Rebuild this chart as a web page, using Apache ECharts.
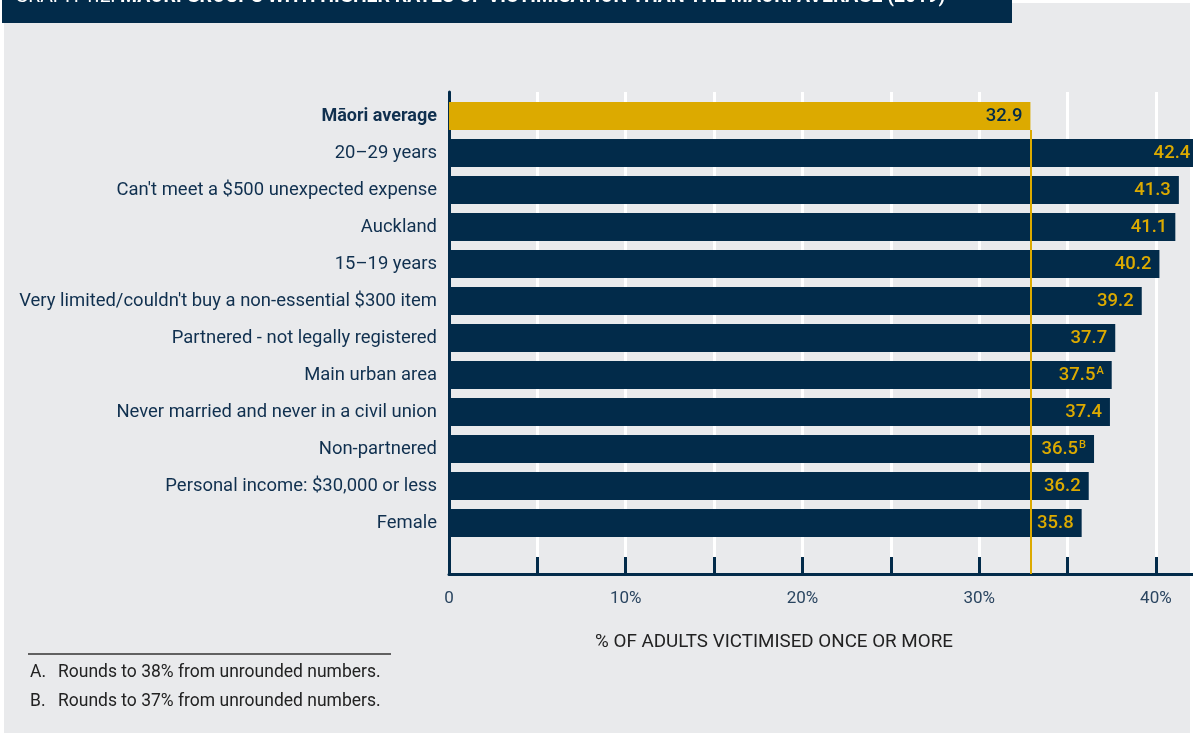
<!DOCTYPE html>
<html>
<head>
<meta charset="utf-8">
<script src="https://cdn.jsdelivr.net/npm/echarts@6/dist/echarts.min.js"></script>
<style>
html,body{margin:0;padding:0;background:#ffffff;}
#chart{width:1193px;height:735px;}
</style>
</head>
<body>
<div id="chart"></div>
<script>
// ---------- data ----------
const titlePrefix = 'GRAPH 1.2: ';
const titleMain = 'MĀORI GROUPS WITH HIGHER RATES OF VICTIMISATION THAN THE MĀORI AVERAGE (2019)';
const averageLabel = 'Māori average';
const categories = [
  'Māori average',
  '20–29 years',
  "Can't meet a $500 unexpected expense",
  'Auckland',
  '15–19 years',
  "Very limited/couldn't buy a non-essential $300 item",
  'Partnered - not legally registered',
  'Main urban area',
  'Never married and never in a civil union',
  'Non-partnered',
  'Personal income: $30,000 or less',
  'Female'
];
const values = [32.9, 42.4, 41.3, 41.1, 40.2, 39.2, 37.7, 37.5, 37.4, 36.5, 36.2, 35.8];
const noteMarks = ['', '', '', '', '', '', '', 'A', '', 'B', '', ''];
const xTickValues = [5, 10, 15, 20, 25, 30, 35, 40];
const xLabelValues = [0, 10, 20, 30, 40];
const xAxisName = '% OF ADULTS VICTIMISED ONCE OR MORE';
const footnoteKeys = ['A.', 'B.'];
const footnoteTexts = ['Rounds to 38% from unrounded numbers.', 'Rounds to 37% from unrounded numbers.'];

// ---------- style ----------
const NAVY = '#022b4a';
const GOLD = '#dcaa00';
const FONT = 'Roboto, "Open Sans", sans-serif';
const PANEL = '#e9eaec';
const X_MIN = 0, X_MAX = 42.1;
const LEFT = 449, WIDTH = 744;

const chart = echarts.init(document.getElementById('chart'), null, {renderer: 'canvas'});

const barData = values.map((v, i) => ({
  value: v,
  itemStyle: {color: categories[i] === averageLabel ? GOLD : NAVY},
  label: {color: categories[i] === averageLabel ? NAVY : GOLD}
}));

const graphics = [
  {type: 'rect', shape: {x: 4, y: 3, width: 1186, height: 730}, style: {fill: PANEL}, z: -10, silent: true},
  {type: 'rect', shape: {x: 2, y: 0, width: 1010, height: 23}, style: {fill: NAVY}, z: -9, silent: true},
  {type: 'text', x: 15, y: -3, z: -8, silent: true,
    style: {
      text: '{a|' + titlePrefix + '}{b|' + titleMain + '}',
      verticalAlign: 'middle',
      rich: {
        a: {fill: '#ffffff', fontFamily: FONT, fontSize: 19.4, fontWeight: 'normal'},
        b: {fill: '#ffffff', fontFamily: FONT, fontSize: 19.4, fontWeight: 'bold'}
      }
    }},
  {type: 'line', shape: {x1: 28, y1: 654, x2: 391, y2: 654}, style: {stroke: '#333333', lineWidth: 1.5}, silent: true}
];
footnoteKeys.forEach((k, i) => {
  graphics.push({type: 'text', x: 30, y: 673 + i * 29, silent: true,
    style: {text: k, fill: '#222222', fontFamily: FONT, fontSize: 17.5, verticalAlign: 'middle'}});
  graphics.push({type: 'text', x: 58, y: 673 + i * 29, silent: true,
    style: {text: footnoteTexts[i], fill: '#222222', fontFamily: FONT, fontSize: 17.5, verticalAlign: 'middle'}});
});

const option = {
  backgroundColor: 'transparent',
  animation: false,
  textStyle: {fontFamily: FONT},
  graphic: graphics,
  grid: [
    {left: LEFT, width: WIDTH, top: 92, height: 465},   // split lines
    {left: LEFT, width: WIDTH, top: 92, height: 482},   // axis lines, ticks, labels
    {left: LEFT, width: WIDTH, top: 97.5, height: 444}, // bars
    {left: LEFT, width: WIDTH, top: 130, height: 444}   // average reference line
  ],
  xAxis: [
    {gridIndex: 0, type: 'value', min: X_MIN, max: X_MAX, interval: 5, z: 0,
      axisLine: {show: false}, axisTick: {show: false}, axisLabel: {show: false},
      splitLine: {show: true, lineStyle: {color: '#ffffff', width: 3}}},
    {gridIndex: 1, type: 'value', min: X_MIN, max: X_MAX, interval: 5, position: 'bottom', z: 1,
      axisLine: {show: true, lineStyle: {color: NAVY, width: 3}},
      axisTick: {show: true, inside: true, length: 17, customValues: xTickValues,
        lineStyle: {color: NAVY, width: 3}},
      axisLabel: {show: true, margin: 16, color: '#2a4560', fontSize: 17, fontFamily: FONT,
        customValues: xLabelValues,
        formatter: v => v === 0 ? '0' : v + '%'},
      splitLine: {show: false},
      name: xAxisName, nameLocation: 'middle', nameGap: 59,
      nameTextStyle: {color: '#222222', fontSize: 18.8, fontFamily: FONT, padding: [0, 94, 0, 0]}},
    {gridIndex: 2, type: 'value', min: X_MIN, max: X_MAX, show: false},
    {gridIndex: 3, type: 'value', min: X_MIN, max: X_MAX, show: false}
  ],
  yAxis: [
    {gridIndex: 0, type: 'value', show: false},
    {gridIndex: 1, type: 'value', min: 0, max: 1, z: 1,
      axisLine: {show: true, lineStyle: {color: NAVY, width: 3}},
      axisTick: {show: false}, axisLabel: {show: false}, splitLine: {show: false}},
    {gridIndex: 2, type: 'category', data: categories, inverse: true,
      axisLine: {show: false}, axisTick: {show: false}, splitLine: {show: false},
      axisLabel: {margin: 12, color: '#10304f', fontSize: 18.45, fontFamily: FONT,
        formatter: v => v === averageLabel ? '{b|' + v + '}' : v,
        rich: {b: {fontWeight: 'bold', fontSize: 18, color: '#10304f', fontFamily: FONT}}}},
    {gridIndex: 3, type: 'value', min: 0, max: 1, show: false}
  ],
  series: [
    {type: 'bar', xAxisIndex: 2, yAxisIndex: 2, data: barData, barWidth: 28, z: 2, clip: false,
      label: {show: true, position: 'insideRight', distance: 8,
        formatter: p => '{v|' + p.value + '}' + (noteMarks[p.dataIndex] ? '{s|' + noteMarks[p.dataIndex] + '}' : ''),
        rich: {
          v: {fontSize: 18.5, fontWeight: 500, fontFamily: FONT},
          s: {fontSize: 11, fontWeight: 500, fontFamily: FONT, verticalAlign: 'top', padding: [0, 0, 8, 1]}
        }}},
    {type: 'line', xAxisIndex: 3, yAxisIndex: 3, data: [], z: 5, silent: true,
      markLine: {symbol: 'none', silent: true, animation: false, label: {show: false},
        lineStyle: {color: GOLD, width: 2, type: 'solid'},
        data: [{xAxis: values[categories.indexOf(averageLabel)]}]}}
  ]
};
chart.setOption(option);
</script>
</body>
</html>
